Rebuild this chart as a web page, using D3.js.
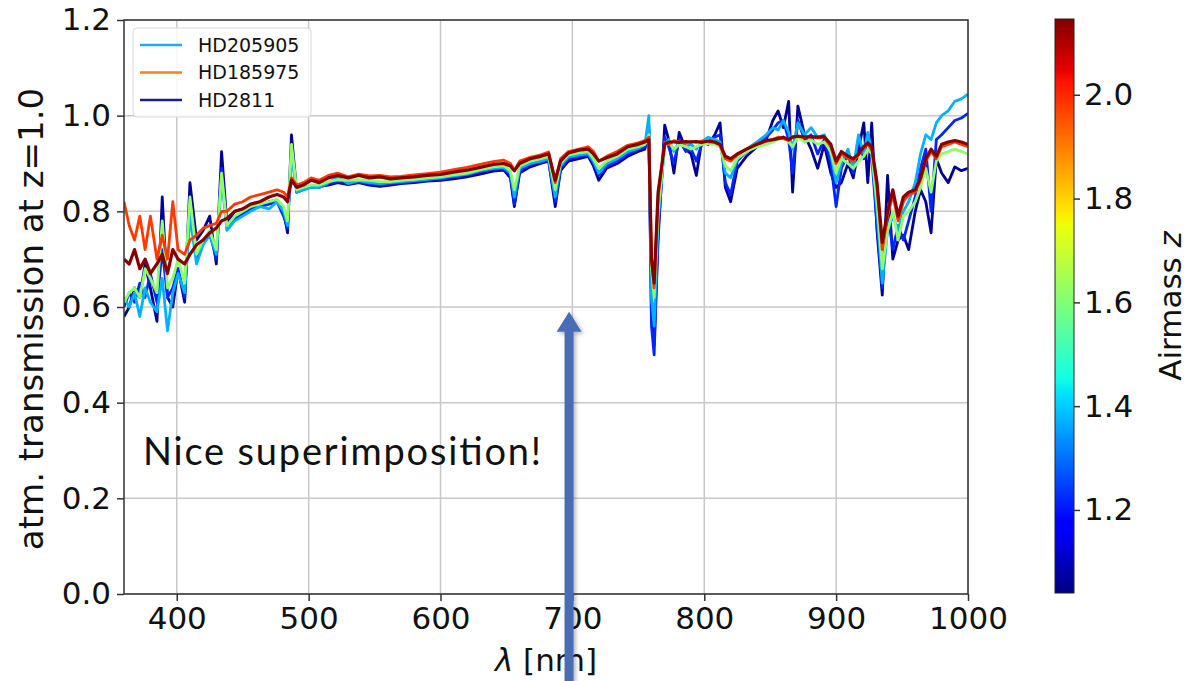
<!DOCTYPE html>
<html>
<head>
<meta charset="utf-8">
<script src="https://cdn.jsdelivr.net/npm/d3@7"></script>
<style>
body { margin: 0; background: #fff; }
text { font-family: "DejaVu Sans", sans-serif; fill: #111; }
</style>
</head>
<body>
<script>
// wavelength grid (nm), shared by all spectra
const wavelengths = [360,364,368,372,376,380,385,389,393,397,
  401,406,410,415,420,425,430,434,438,444,
  450,456,463,470,476,481,484,487,491,496,
  502,508,515,522,530,538,546,554,562,570,
  580,590,600,610,620,630,640,648,653,656,
  660,668,676,682,687,691,697,705,712,716,
  720,726,734,742,750,755,758,760,762,765,
  770,773,777,781,786,790,794,798,803,808,
  812,816,820,825,832,840,847,852,856,860,
  864,867,871,876,881,886,891,896,900,904,
  909,913,917,921,924,927,931,935,939,943,
  947,951,955,960,964,968,972,976,980,985,
  990,995,1000];

// airmass of each spectrum
const airmasses = [1.06, 1.22, 1.37, 1.62, 1.98, 2.14];

const transNavy = [0.58,0.60,0.64,0.62,0.69,0.64,0.57,0.83,0.62,0.60,
  0.68,0.61,0.86,0.74,0.76,0.79,0.69,0.925,0.775,0.80,
  0.805,0.81,0.813,0.82,0.824,0.80,0.755,0.96,0.84,0.848,
  0.85,0.852,0.855,0.86,0.856,0.86,0.855,0.852,0.855,0.858,
  0.86,0.863,0.865,0.868,0.872,0.878,0.884,0.886,0.87,0.81,
  0.88,0.893,0.90,0.905,0.81,0.885,0.905,0.91,0.915,0.895,
  0.865,0.89,0.90,0.915,0.925,0.93,0.97,0.58,0.52,0.74,
  0.98,0.95,0.88,0.965,0.93,0.92,0.875,0.945,0.94,0.96,
  0.985,0.85,0.82,0.89,0.915,0.935,0.95,0.99,1.01,0.975,
  1.03,0.84,1.02,0.96,0.93,0.89,0.94,0.88,0.85,0.86,
  0.90,0.87,0.93,0.985,0.86,0.985,0.76,0.625,0.875,0.70,
  0.74,0.75,0.72,0.80,0.845,0.82,0.755,0.91,0.88,0.86,
  0.893,0.885,0.89];

const transBlue = [0.60,0.63,0.61,0.65,0.62,0.67,0.61,0.72,0.62,0.64,
  0.68,0.62,0.81,0.70,0.735,0.755,0.70,0.89,0.77,0.785,
  0.795,0.805,0.81,0.815,0.82,0.79,0.765,0.93,0.84,0.845,
  0.852,0.85,0.858,0.862,0.86,0.862,0.858,0.856,0.858,0.86,
  0.862,0.866,0.868,0.872,0.876,0.883,0.888,0.89,0.875,0.815,
  0.885,0.898,0.903,0.908,0.82,0.89,0.91,0.915,0.918,0.90,
  0.875,0.895,0.905,0.92,0.93,0.935,0.98,0.56,0.50,0.76,
  0.955,0.935,0.90,0.95,0.925,0.93,0.905,0.94,0.945,0.955,
  0.96,0.86,0.835,0.905,0.925,0.94,0.955,0.97,0.985,0.99,
  0.95,0.88,0.99,0.95,0.96,0.92,0.95,0.90,0.81,0.89,
  0.92,0.88,0.95,0.91,0.96,0.915,0.77,0.64,0.80,0.72,
  0.77,0.74,0.78,0.83,0.89,0.93,0.80,0.95,0.96,0.975,
  0.99,0.995,1.005];

const transLight = [0.62,0.60,0.63,0.58,0.64,0.61,0.59,0.66,0.55,0.63,
  0.67,0.63,0.79,0.69,0.73,0.75,0.71,0.87,0.76,0.78,
  0.79,0.80,0.81,0.805,0.82,0.80,0.77,0.92,0.84,0.845,
  0.85,0.85,0.86,0.872,0.858,0.864,0.86,0.858,0.86,0.862,
  0.864,0.867,0.87,0.874,0.878,0.885,0.89,0.892,0.88,0.83,
  0.89,0.90,0.905,0.91,0.83,0.895,0.914,0.918,0.92,0.905,
  0.88,0.90,0.91,0.925,0.932,0.94,1.00,0.62,0.56,0.78,
  0.94,0.95,0.925,0.945,0.935,0.94,0.93,0.945,0.955,0.95,
  0.945,0.88,0.87,0.91,0.93,0.945,0.96,0.975,0.97,0.99,
  0.965,0.93,0.985,0.96,0.975,0.955,0.96,0.92,0.86,0.90,
  0.93,0.89,0.96,0.92,0.965,0.925,0.80,0.65,0.76,0.79,
  0.76,0.80,0.82,0.86,0.92,0.96,0.95,0.985,1.00,1.01,
  1.03,1.035,1.045];

const transGreen = [0.61,0.63,0.64,0.62,0.68,0.66,0.63,0.78,0.64,0.66,
  0.70,0.65,0.83,0.71,0.74,0.76,0.72,0.88,0.77,0.79,
  0.80,0.81,0.815,0.82,0.825,0.81,0.78,0.94,0.845,0.85,
  0.855,0.855,0.862,0.866,0.865,0.866,0.865,0.862,0.862,0.865,
  0.867,0.87,0.872,0.876,0.88,0.887,0.893,0.895,0.885,0.845,
  0.895,0.905,0.91,0.915,0.845,0.90,0.918,0.922,0.925,0.91,
  0.89,0.905,0.915,0.93,0.935,0.94,0.96,0.68,0.62,0.80,
  0.935,0.945,0.93,0.94,0.935,0.93,0.935,0.94,0.942,0.94,
  0.935,0.895,0.885,0.91,0.925,0.935,0.94,0.945,0.95,0.955,
  0.945,0.935,0.955,0.945,0.95,0.94,0.945,0.925,0.88,0.91,
  0.90,0.89,0.905,0.915,0.93,0.92,0.82,0.68,0.76,0.80,
  0.74,0.79,0.80,0.82,0.85,0.89,0.84,0.905,0.92,0.925,
  0.93,0.925,0.92];

const transOrange = [0.82,0.77,0.74,0.79,0.72,0.79,0.70,0.75,0.70,0.82,
  0.72,0.71,0.74,0.75,0.765,0.77,0.775,0.80,0.80,0.815,
  0.82,0.83,0.835,0.84,0.845,0.84,0.83,0.87,0.855,0.86,
  0.87,0.865,0.875,0.88,0.872,0.878,0.874,0.875,0.872,0.873,
  0.876,0.879,0.882,0.887,0.892,0.898,0.904,0.907,0.90,0.885,
  0.905,0.913,0.918,0.924,0.86,0.91,0.925,0.93,0.935,0.925,
  0.905,0.915,0.925,0.938,0.943,0.948,0.955,0.70,0.64,0.83,
  0.945,0.94,0.948,0.945,0.942,0.946,0.944,0.947,0.945,0.944,
  0.938,0.91,0.905,0.918,0.93,0.942,0.946,0.95,0.955,0.952,
  0.948,0.956,0.958,0.954,0.957,0.953,0.955,0.935,0.90,0.92,
  0.91,0.905,0.918,0.932,0.94,0.93,0.85,0.72,0.79,0.835,
  0.78,0.82,0.835,0.84,0.865,0.905,0.925,0.91,0.935,0.94,
  0.945,0.94,0.935];

const transDarkRed = [0.70,0.69,0.72,0.68,0.70,0.67,0.69,0.71,0.67,0.72,
  0.70,0.69,0.71,0.73,0.74,0.755,0.765,0.78,0.785,0.80,
  0.805,0.815,0.82,0.83,0.835,0.83,0.82,0.865,0.85,0.855,
  0.865,0.86,0.87,0.875,0.87,0.875,0.87,0.872,0.868,0.87,
  0.872,0.875,0.877,0.882,0.886,0.892,0.898,0.90,0.895,0.885,
  0.90,0.91,0.915,0.92,0.865,0.905,0.922,0.928,0.93,0.92,
  0.905,0.912,0.92,0.935,0.94,0.945,0.95,0.70,0.65,0.84,
  0.94,0.945,0.945,0.944,0.946,0.945,0.946,0.944,0.947,0.945,
  0.94,0.915,0.91,0.92,0.93,0.94,0.948,0.95,0.952,0.955,
  0.95,0.955,0.957,0.955,0.956,0.955,0.956,0.94,0.905,0.925,
  0.915,0.91,0.92,0.935,0.943,0.935,0.86,0.735,0.80,0.845,
  0.79,0.83,0.84,0.845,0.87,0.91,0.93,0.915,0.94,0.945,
  0.948,0.945,0.94];

const legendNames = ["HD205905", "HD185975", "HD2811"];
const legendColors = ["#22aaee", "#ff7f1e", "#1c1c8e"];

const xTicks = [400, 500, 600, 700, 800, 900, 1000];
const yTicks = [0.0, 0.2, 0.4, 0.6, 0.8, 1.0, 1.2];
const cbTicks = [1.2, 1.4, 1.6, 1.8, 2.0];

// matplotlib "jet" colormap stops
const jetStops = [0, 0.11, 0.125, 0.34, 0.35, 0.375, 0.64, 0.65, 0.66, 0.89, 0.91, 1];
const jetColors = ["#000080", "#0000ff", "#0000ff", "#00dbff", "#00e6f7", "#14ffe2",
  "#eeff08", "#f7f500", "#ffec00", "#ff1300", "#e80000", "#800000"];

const allSeries = [transNavy, transBlue, transLight, transGreen, transOrange, transDarkRed];

const width = 1199, height = 681;
const svg = d3.select('body').append('svg')
  .attr('width', width).attr('height', height);

const plot = {left: 124, right: 968, top: 20, bottom: 594};

const xScale = d3.scaleLinear().domain([360, 1000]).range([plot.left, plot.right]);
const yScale = d3.scaleLinear().domain([0, 1.2]).range([plot.bottom, plot.top]);
const zDomain = [1.04, 2.146];
const cbScale = d3.scaleLinear().domain(zDomain).range([593, 19]);
const jet = d3.scaleLinear().domain(jetStops).range(jetColors);
const zColor = z => jet((z - zDomain[0]) / (zDomain[1] - zDomain[0]));

// grid
const grid = svg.append('g').attr('class', 'grid');
grid.selectAll('line.gx').data(xTicks).enter().append('line')
  .attr('x1', d => xScale(d)).attr('x2', d => xScale(d))
  .attr('y1', plot.top).attr('y2', plot.bottom)
  .attr('stroke', '#c8c8c8').attr('stroke-width', 1.5);
grid.selectAll('line.gy').data(yTicks).enter().append('line')
  .attr('x1', plot.left).attr('x2', plot.right)
  .attr('y1', d => yScale(d)).attr('y2', d => yScale(d))
  .attr('stroke', '#c8c8c8').attr('stroke-width', 1.5);

// spectra
svg.append('clipPath').attr('id', 'clip').append('rect')
  .attr('x', plot.left).attr('y', plot.top)
  .attr('width', plot.right - plot.left).attr('height', plot.bottom - plot.top);

const lineGen = d3.line()
  .x((d, i) => xScale(wavelengths[i]))
  .y(d => yScale(d));

svg.append('g').attr('clip-path', 'url(#clip)')
  .selectAll('path')
  .data(allSeries)
  .enter()
  .append('path')
  .attr('d', d => lineGen(d))
  .attr('fill', 'none')
  .attr('stroke', (d, i) => zColor(airmasses[i]))
  .attr('stroke-width', (d, i) => i === allSeries.length - 1 ? 3.2 : 2.8)
  .attr('stroke-linejoin', 'round');

// axes
const xAxis = d3.axisBottom(xScale).tickValues(xTicks).tickSize(7).tickPadding(6)
  .tickFormat(d3.format('d'));
const yAxis = d3.axisLeft(yScale).tickValues(yTicks).tickSize(7).tickPadding(6)
  .tickFormat(d3.format('.1f'));

const gx = svg.append('g').attr('transform', `translate(0,${plot.bottom})`).call(xAxis);
const gy = svg.append('g').attr('transform', `translate(${plot.left},0)`).call(yAxis);
[gx, gy].forEach(g => {
  g.select('.domain').remove();
  g.selectAll('.tick line').attr('stroke', '#333').attr('stroke-width', 1.5);
  g.selectAll('.tick text').style('font-size', '31px').attr('fill', '#111');
});

// frame
svg.append('rect')
  .attr('x', plot.left).attr('y', plot.top)
  .attr('width', plot.right - plot.left).attr('height', plot.bottom - plot.top)
  .attr('fill', 'none').attr('stroke', '#333').attr('stroke-width', 1.5);

// axis labels
svg.append('text')
  .attr('transform', `translate(31,${(plot.top + plot.bottom) / 2 + 12}) rotate(-90)`)
  .attr('text-anchor', 'middle').attr('dy', '0.35em')
  .style('font-size', '34px')
  .text('atm. transmission at z=1.0');

const xl = svg.append('text')
  .attr('x', (plot.left + plot.right) / 2).attr('y', 671)
  .attr('text-anchor', 'middle')
  .style('font-size', '31px');
xl.append('tspan').style('font-style', 'italic').text('λ');
xl.append('tspan').text(' [nm]');

// legend
const legend = svg.append('g');
legend.append('rect')
  .attr('x', 133).attr('y', 28).attr('width', 178).attr('height', 89)
  .attr('rx', 4).attr('fill', '#fff').attr('fill-opacity', 0.85)
  .attr('stroke', '#d8d8d8');
legendNames.forEach((name, i) => {
  const cy = 45 + i * 27.5;
  legend.append('line')
    .attr('x1', 140).attr('x2', 182).attr('y1', cy).attr('y2', cy)
    .attr('stroke', legendColors[i]).attr('stroke-width', 2.5);
  legend.append('text')
    .attr('x', 198).attr('y', cy).attr('dy', '0.36em')
    .style('font-size', '19px')
    .text(name);
});

// colorbar
const defs = svg.append('defs');
const grad = defs.append('linearGradient').attr('id', 'jetgrad')
  .attr('x1', 0).attr('y1', 1).attr('x2', 0).attr('y2', 0);
grad.selectAll('stop').data(jetStops).enter().append('stop')
  .attr('offset', d => d)
  .attr('stop-color', (d, i) => jetColors[i]);

const cbX = 1055, cbW = 19;
svg.append('rect')
  .attr('x', cbX).attr('y', cbScale(zDomain[1]))
  .attr('width', cbW).attr('height', cbScale(zDomain[0]) - cbScale(zDomain[1]))
  .attr('fill', 'url(#jetgrad)')
  .attr('stroke', '#222').attr('stroke-width', 1);

const cbAxis = d3.axisRight(cbScale).tickValues(cbTicks).tickSize(6).tickPadding(4)
  .tickFormat(d3.format('.1f'));
const gcb = svg.append('g').attr('transform', `translate(${cbX + cbW},0)`).call(cbAxis);
gcb.select('.domain').remove();
gcb.selectAll('.tick line').attr('stroke', '#333').attr('stroke-width', 1.5);
gcb.selectAll('.tick text').style('font-size', '31px').attr('fill', '#111');

const cbl = svg.append('text')
  .attr('transform', `translate(1170,${(cbScale(zDomain[0]) + cbScale(zDomain[1])) / 2}) rotate(-90)`)
  .attr('text-anchor', 'middle').attr('dy', '0.35em')
  .style('font-size', '31px');
cbl.append('tspan').text('Airmass ');
cbl.append('tspan').style('font-style', 'italic').text('z');

// annotation
svg.append('text')
  .attr('x', 143).attr('y', 465)
  .attr('textLength', 398)
  .style('font-family', 'Lato, sans-serif')
  .style('font-size', '38px')
  .attr('fill', '#000')
  .text('Nice superimposition!');

const shadow = defs.append('filter').attr('id', 'shadow')
  .attr('x', '-50%').attr('y', '-10%').attr('width', '200%').attr('height', '120%');
shadow.append('feDropShadow').attr('dx', 2).attr('dy', 2)
  .attr('stdDeviation', 2).attr('flood-color', '#000').attr('flood-opacity', 0.3);

const arrowX = xScale(697.5);
const tipY = yScale(0.59);
const arrow = svg.append('g').attr('filter', 'url(#shadow)').attr('fill', '#4a6cb6');
arrow.append('rect')
  .attr('x', arrowX - 4.5).attr('y', tipY + 18)
  .attr('width', 9).attr('height', height - tipY - 18);
arrow.append('path')
  .attr('d', `M${arrowX - 12.5},${tipY + 20} L${arrowX},${tipY} L${arrowX + 12.5},${tipY + 20} Z`);
</script>
</body>
</html>
